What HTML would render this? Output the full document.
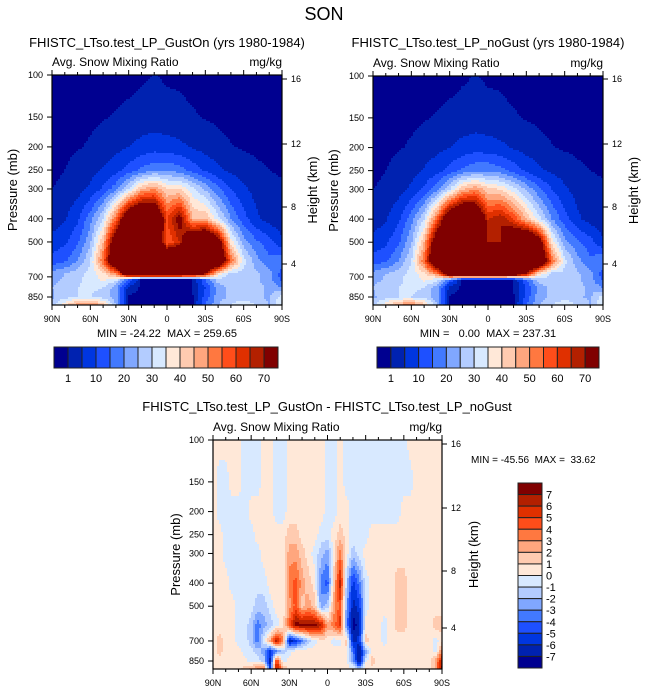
<!DOCTYPE html>
<html><head><meta charset="utf-8"><style>
html,body{margin:0;padding:0;background:#fff;}
svg{display:block;font-family:"Liberation Sans",Arial,sans-serif;}
text{white-space:pre;}
</style></head><body>
<svg id="fig" width="648" height="694" viewBox="0 0 648 694" xmlns="http://www.w3.org/2000/svg">
<text x="324" y="20" font-size="18" text-anchor="middle">SON</text>
</svg>
<script>
// ---------- data ----------
const lats = [90,80,70,60,50,40,30,20,10,0,-10,-20,-30,-40,-50,-60,-70,-80,-90];
const topLevels = [100,150,200,250,300,400,500,600,680,720,775,850,925];
const levels = [100,150,200,250,300,400,500,600,700,775,850,925];
const gustOn = [
 [0,0,0,0,0,0,0,0.5,1.1,0.6,0.5,0,0,0,0,0,0,0,0],
 [0,0,0.2,0.5,0.8,1.2,1.8,2.2,2.5,2,1.8,1.3,0.8,0.5,0.3,0.2,0,0,0],
 [0.3,0.5,0.8,1.3,2.2,3.5,5,6.5,7.5,7,6,4.5,3,1.8,1.1,0.7,0.5,0.3,0.2],
 [0.5,1,1.8,3.2,5.5,8,12,16,19,19,17,13,9,6,4,2.5,1.5,1,0.6],
 [1,1.5,3,6,11,18,30,45,50,40,40,32,24,16,10,6,3,2,1.5],
 [2,4.5,9,18,30,55,90,100,95,60,75,45,45,32,20,12,6,3,1.5],
 [7,9,14,24,45,85,100,100,100,55,65,90,100,80,38,22,16,12,6],
 [12,14,20,30,55,95,100,100,100,100,100,75,100,95,55,32,22,16,20],
 [22,25,28,32,38,50,90,95,95,95,95,90,70,38,28,28,26,22,12],
 [23,26,29,32,36,32,15,0.3,0.3,0.3,0.3,0.5,15,28,28,28,26,22,14],
 [25,28,30,31,30,22,3,0.3,0.3,0.3,0.3,1,10,22,27,28,27,24,20],
 [24,28,30,30,28,22,0.5,0.3,0.3,0.3,0.3,0.5,12,23,26,27,26,24,33],
 [28,40,50,55,45,25,0.5,0.5,0.5,0.5,0.5,0.5,15,25,30,36,30,25,35]
];
const noGust = [
 [0,0,0,0,0,0,0,0.6,1.1,0.6,0.5,0,0,0,0,0,0,0,0],
 [0,0,0.2,0.5,0.8,1.2,1.8,2.2,2.5,2.1,1.8,1.3,0.8,0.5,0.3,0.2,0,0,0],
 [0.3,0.5,0.8,1.3,2.2,3.5,5,6.5,7.5,7,6,4.5,3,1.8,1.1,0.7,0.5,0.3,0.2],
 [0.5,1,1.8,3.2,5.5,8,12,16,19,19,17,13,9,6,4,2.5,1.5,1,0.6],
 [1,1.5,3,6,11,18,30,45,50,42,40,32,24,16,10,6,3,2,1.5],
 [2,4.5,9,18,30,55,90,100,95,65,70,60,45,32,20,12,6,3,1.5],
 [7,9,14,24,45,85,100,100,100,70,70,90,100,80,38,22,16,12,6],
 [12,14,20,30,55,95,100,100,100,100,100,80,100,95,55,32,22,16,20],
 [22,25,28,32,38,50,90,95,95,95,95,90,70,38,28,28,26,22,12],
 [23,26,29,32,36,32,15,0.3,0.3,0.3,0.3,0.5,15,28,28,28,26,22,14],
 [25,28,30,31,30,22,3,0.3,0.3,0.3,0.3,1,10,22,27,28,27,24,20],
 [24,28,30,30,28,22,0.5,0.3,0.3,0.3,0.3,0.5,12,23,26,27,26,24,33],
 [28,40,50,55,45,25,0.5,0.5,0.5,0.5,0.5,0.5,15,25,30,36,30,25,35]
];
const diffLats = [90,85,80,75,70,65,60,55,50,45,40,35,30,25,20,15,10,5,0,-5,-10,-15,-20,-25,-30,-35,-40,-45,-50,-55,-60,-65,-70,-75,-80,-85,-90];
const diff = [
 [.5,.5,.5,.5,.5,-.5,-.5,-.5,.5,.5,-.5,-.5,.5,.5,.5,.5,.5,.5,-.5,-.5,.5,-.5,-.5,-.5,-.5,-.5,-.5,-.5,-.5,-.5,-.5,.5,.5,.5,.5,.5,.5],
 [.5,-.5,-.5,.5,.5,-.5,-.5,-.5,.5,.5,-.5,-.5,.5,.5,.5,.5,.5,.5,-.5,-.5,.5,-.5,-.5,-.5,-.5,-.5,-.5,-.5,-.5,-.5,-.5,-.5,.5,.5,.5,.5,.5],
 [.5,-.5,-.5,-.5,-.5,-.5,.5,.5,.5,.5,-.5,-.5,.5,.5,.5,.5,.5,.5,-.5,-.5,.5,.5,-.5,-.5,-.5,-.5,-.5,-.5,-.5,-.5,.5,.5,.5,.5,.5,.5,.5],
 [.5,.5,-.5,-.5,-.5,-.5,-.5,.5,.5,.5,.5,.5,1.5,1.5,.5,.5,.5,-.5,-.5,.5,1.5,.5,-.5,-.5,-.5,.5,.5,.5,.5,.5,.5,.5,.5,.5,.5,.5,.5],
 [.5,.5,-.5,-.5,-.5,-.5,-.5,-.5,.5,.5,.5,.5,2.5,2.5,1.5,.5,-.5,-1.5,-2.5,.5,3.5,.5,-1.5,-.5,.5,.5,.5,.5,.5,.5,.5,.5,.5,.5,.5,.5,.5],
 [.5,.5,.5,-.5,-.5,-.5,-.5,-.5,-.5,.5,.5,.5,3.5,4.5,2.5,1.5,.5,-3.5,-4.5,1.5,6.5,-1.5,-5.5,-3.5,-.5,.5,.5,.5,.5,1.5,1.5,.5,.5,.5,.5,.5,.5],
 [.5,.5,.5,.5,-.5,-.5,-.5,-1.5,-1.5,-.5,.5,.5,2.5,4.5,1.5,2.5,1.5,-2.5,-1.5,2.5,4.5,-2.5,-6.5,-5.5,-.5,.5,.5,.5,.5,1.5,1.5,.5,.5,.5,.5,.5,.5],
 [.5,.5,.5,.5,-.5,-.5,-1.5,-3.5,-2.5,-1.5,-.5,.5,4.5,7.5,7.5,7.5,7.5,6.5,2.5,3.5,5.5,-3.5,-7.5,-6.5,.5,.5,.5,-.5,.5,1.5,1.5,.5,.5,.5,.5,1.5,1.5],
 [.5,1.5,.5,.5,-.5,-.5,-1.5,-3.5,-.5,2.5,6.5,3.5,-6.5,-5.5,-3.5,-1.5,-.5,.5,.5,-.5,-.5,1.5,-6.5,-5.5,1.5,.5,.5,-.5,.5,.5,.5,.5,.5,.5,.5,-.5,.5],
 [.5,1.5,.5,.5,.5,-.5,-.5,-1.5,-2.5,-5.5,-3.5,-1.5,-.5,.5,.5,.5,.5,.5,.5,.5,.5,.5,-3.5,-7.5,-2.5,.5,.5,.5,.5,.5,.5,.5,.5,.5,.5,-.5,3.5],
 [.5,.5,.5,.5,.5,.5,-.5,-.5,-1.5,-6.5,5.5,-.5,.5,.5,.5,.5,.5,.5,.5,.5,.5,.5,-2.5,-7.5,-.5,1.5,.5,.5,.5,.5,.5,.5,.5,.5,.5,2.5,6.5],
 [.5,.5,.5,.5,.5,1.5,2.5,3.5,4.5,-5.5,7.5,2.5,.5,.5,.5,.5,.5,.5,.5,.5,.5,.5,.5,-1.5,1.5,.5,.5,.5,.5,.5,.5,.5,.5,.5,.5,2.5,7.5]
];
const absBounds = [1,5,10,15,20,25,30,35,40,45,50,55,60,65,70];
const absLabels = ["1","10","20","30","40","50","60","70"];
const diffBounds = [-7,-6,-5,-4,-3,-2,-1,0,1,2,3,4,5,6,7];
const diffLabels = ["7","6","5","4","3","2","1","0","-1","-2","-3","-4","-5","-6","-7"];
const pTicks = [100,150,200,250,300,400,500,700,850];
const latTickLabels = ["90N","60N","30N","0","30S","60S","90S"];
const latTicks = [90,60,30,0,-30,-60,-90];
const hTicks = [16,12,8,4];
const colors = ['#000090','#0022b0','#0036e0','#1e50ff','#4279ff','#80a7ff','#b3ccff','#d8e9ff','#ffe8d8','#ffcbb0','#ffa67e','#ff7840','#ff4d1a','#e03000','#b32000','#800000'];

const NS='http://www.w3.org/2000/svg';
const fig=document.getElementById('fig');
function mk(tag,attrs,parent){const e=document.createElementNS(NS,tag);for(const k in attrs)e.setAttribute(k,attrs[k]);(parent||fig).appendChild(e);return e;}
function txt(x,y,s,size,anchor,parent,rot){const t=mk('text',{x:x,y:y,'font-size':size,'text-anchor':anchor||'start'},parent);if(rot)t.setAttribute('transform','rotate(-90 '+x+' '+y+')');t.textContent=s;return t;}
function colorIdx(v,b){let i=0;while(i<b.length&&v>=b[i])i++;return i;}
function interp(grid,la,lv,lat,p){
  let i=0;while(i<la.length-2&&lat<la[i+1])i++;
  let fx=(la[i]-lat)/(la[i]-la[i+1]);fx=Math.max(0,Math.min(1,fx));
  const lp=Math.log(p);let j=0;while(j<lv.length-2&&lp>Math.log(lv[j+1]))j++;
  let fy=(lp-Math.log(lv[j]))/(Math.log(lv[j+1])-Math.log(lv[j]));fy=Math.max(0,Math.min(1,fy));
  const a=grid[j][i],b=grid[j][i+1],c=grid[j+1][i],d=grid[j+1][i+1];
  return (a*(1-fx)+b*fx)*(1-fy)+(c*(1-fx)+d*fx)*fy;
}
function panel(o){
  const g=mk('g',{});
  
  
  const x0=o.x0,x1=o.x1,y0=o.y0,y1=o.y1,y850=o.y850;
  const bk=(y850-y0)/Math.log(8.5);
  const xOf=lat=>x0+(90-lat)/180*(x1-x0);
  const yOfP=p=>y0+bk*Math.log(p/100);
  const pOfY=y=>100*Math.exp((y-y0)/bk);
  const latOfX=x=>90-(x-x0)/(x1-x0)*180;
  const field=mk('g',{},g);
  
  
  const st=2;
  for(let y=y0;y<y1;y+=st){
    const p=pOfY(y+st/2);let runStart=x0,runC=-1;
    const flush=(xe)=>{if(runC>=0){const r=mk('rect',{x:runStart,y:y,width:xe-runStart+0.5,height:Math.min(st,y1-y)+0.5,fill:colors[runC]},field);
          
          }};
    for(let x=x0;x<x1;x+=st){
      const v=interp(o.grid,o.lats,o.levels,latOfX(Math.min(x+st/2,x1)),p);const c=colorIdx(v,o.bounds);
      if(c!==runC){flush(x);runStart=x;runC=c;}
    }
    flush(x1);
  }
  const fr=mk('rect',{x:x0,y:y0,width:x1-x0,height:y1-y0,fill:'none',stroke:'#000','stroke-width':1.2},g);
  
  
  for(let lat=90;lat>=-90;lat-=10){const x=xOf(lat);const L=(lat%30===0)?5:3;
    mk('line',{x1:x,y1:y1,x2:x,y2:y1+L,stroke:'#000'},g);mk('line',{x1:x,y1:y0,x2:x,y2:y0-L,stroke:'#000'},g);}
  latTicks.forEach((lat,k)=>{const t=txt(xOf(lat),y1+17,latTickLabels[k],9,'middle',g);
    
    });
  pTicks.forEach(p=>{const y=yOfP(p);mk('line',{x1:x0,y1:y,x2:x0-5,y2:y,stroke:'#000'},g);
    const t=txt(x0-9,y+3,String(p),9,'end',g);
    
    });
  hTicks.forEach((h,k)=>{const y=o.hY[k];mk('line',{x1:x1,y1:y,x2:x1+5,y2:y,stroke:'#000'},g);
    const t=txt(x1+9,y+3,String(h),9,'start',g);
    
    });
  let t=txt(o.pLabX,(y0+y1)/2,'Pressure (mb)',13,'middle',g,true);
  
  
  t=txt(o.hLabX,(y0+y1)/2,'Height (km)',13,'middle',g,true);
  
  
  t=txt(x0,y0-9,'Avg. Snow Mixing Ratio',12,'start',g);
  
  
  t=txt(x1,y0-9,'mg/kg',12,'end',g);
  
  
  t=txt(o.titleX,o.titleY,o.title,13,'middle',g);
  
  
  t=txt(o.mmX,o.mmY,o.minmax,o.mmSize,o.mmAnchor,g);
  
  
}
function hbar(x0,x1,y0,y1,name){
  const g=mk('g',{});
  const w=(x1-x0)/16;
  colors.forEach((c,i)=>{const r=mk('rect',{x:x0+i*w,y:y0,width:w,height:y1-y0,fill:c,stroke:'#222','stroke-width':1},g);
    
    });
  absLabels.forEach((s,k)=>{const t=txt(x0+(2*k+1)*w,y1+14,s,11,'middle',g);
    
    });
}
panel({name:'panel-gust-on',x0:52,x1:282,y0:75,y1:305,y850:297,grid:gustOn,lats:lats,levels:topLevels,bounds:absBounds,hY:[79,144,207,264],
  pLabX:17,hLabX:317,title:'FHISTC_LTso.test_LP_GustOn (yrs 1980-1984)',titleX:167,titleY:47,
  minmax:'MIN = -24.22  MAX = 259.65',mmX:167,mmY:337,mmSize:11,mmAnchor:'middle'});
panel({name:'panel-no-gust',x0:373,x1:603,y0:76,y1:305,y850:297,grid:noGust,lats:lats,levels:topLevels,bounds:absBounds,hY:[79,144,207,264],
  pLabX:338,hLabX:638,title:'FHISTC_LTso.test_LP_noGust (yrs 1980-1984)',titleX:488,titleY:47,
  minmax:'MIN =   0.00  MAX = 237.31',mmX:488,mmY:337,mmSize:11,mmAnchor:'middle'});
panel({name:'panel-difference',x0:213,x1:442,y0:440,y1:669,y850:661,grid:diff,lats:diffLats,levels:levels,bounds:diffBounds,hY:[444,508,571,628],
  pLabX:180,hLabX:478,title:'FHISTC_LTso.test_LP_GustOn - FHISTC_LTso.test_LP_noGust',titleX:327,titleY:411,
  minmax:'MIN = -45.56  MAX =  33.62',mmX:471,mmY:463,mmSize:10,mmAnchor:'start'});
hbar(54,278,347,368,'colorbar-gust-on');
hbar(377,599,347,368,'colorbar-no-gust');
(function(){
  const g=mk('g',{});
  const x0=518,x1=542,y0=483,y1=668,h=(y1-y0)/16;
  for(let i=0;i<16;i++){const r=mk('rect',{x:x0,y:y0+i*h,width:x1-x0,height:h,fill:colors[15-i],stroke:'#222','stroke-width':1},g);
    
    }
  diffLabels.forEach((s,k)=>{const t=txt(x1+4,y0+(k+1)*h+4,s,11,'start',g);
    
    });
})();
</script>
</body></html>
